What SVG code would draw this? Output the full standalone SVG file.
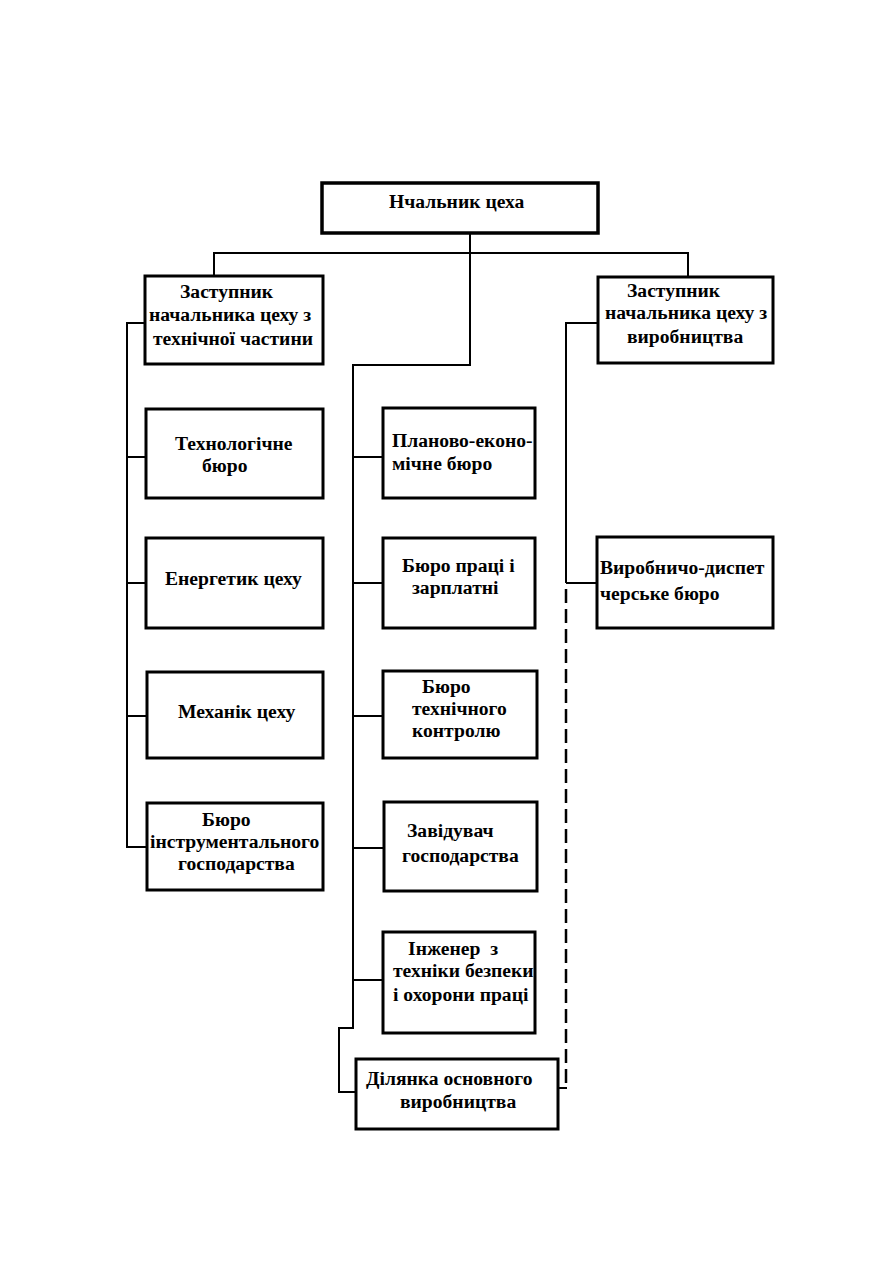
<svg xmlns="http://www.w3.org/2000/svg" width="893" height="1263" viewBox="0 0 893 1263">
<style>
.box{fill:#fff;stroke:#000;stroke-width:3}
.ln{fill:none;stroke:#000;stroke-width:2}
.dash{fill:none;stroke:#000;stroke-width:2.5;stroke-dasharray:14 6}
text{font-family:"Liberation Serif","Times New Roman",serif;font-weight:bold;font-size:19.6px;fill:#000}
</style>
<rect width="893" height="1263" fill="#fff"/>
<g id="connectors">
<path class="ln" d="M470 233V365H353V1028H339V1092H357"/>
<path class="ln" d="M214 277V253H688V277"/>
<path class="ln" d="M145 323H127V847H147M127 457H146M127 583H146M127 716H147"/>
<path class="ln" d="M353 457H383M353 583H383M353 716H383M353 848H384M353 980H383"/>
<path class="ln" d="M598 323H566V583M566 583H597"/>
<path class="dash" d="M566 589V1088"/>
<path class="ln" d="M567 1088H558"/>
</g>
<g id="n_head"><rect class="box" x="322" y="183" width="276" height="50" style="stroke-width:3.5"/><text x="389" y="208">Нчальник цеха</text></g>
<g id="n_dep_tech"><rect class="box" x="145" y="276" width="178" height="88"/><text x="180" y="298">Заступник</text><text x="149" y="321">начальника цеху з</text><text x="153" y="345">технічної частини</text></g>
<g id="n_dep_prod"><rect class="box" x="598" y="277" width="175" height="86"/><text x="627" y="297">Заступник</text><text x="605" y="319">начальника цеху з</text><text x="627" y="343">виробництва</text></g>
<g id="n_tech"><rect class="box" x="146" y="409" width="177" height="89"/><text x="175" y="450">Технологічне</text><text x="202" y="472">бюро</text></g>
<g id="n_energ"><rect class="box" x="146" y="538" width="177" height="90"/><text x="165" y="585">Енергетик цеху</text></g>
<g id="n_mech"><rect class="box" x="147" y="672" width="176" height="86"/><text x="178" y="718">Механік цеху</text></g>
<g id="n_instr"><rect class="box" x="147" y="803" width="176" height="87"/><text x="202" y="826">Бюро</text><text x="150" y="848">інструментального</text><text x="178" y="870">господарства</text></g>
<g id="n_plan"><rect class="box" x="383" y="408" width="152" height="90"/><text x="392" y="447">Планово-еконо-</text><text x="392" y="470">мічне бюро</text></g>
<g id="n_labor"><rect class="box" x="383" y="538" width="152" height="90"/><text x="402" y="572">Бюро праці і</text><text x="412" y="594">зарплатні</text></g>
<g id="n_btk"><rect class="box" x="383" y="671" width="154" height="87"/><text x="422" y="693">Бюро</text><text x="412" y="715">технічного</text><text x="412" y="737">контролю</text></g>
<g id="n_zav"><rect class="box" x="384" y="802" width="153" height="89"/><text x="407" y="837">Завідувач</text><text x="402" y="862">господарства</text></g>
<g id="n_eng"><rect class="box" x="383" y="932" width="152" height="101"/><text x="408" y="955" xml:space="preserve">Інженер  з</text><text x="393" y="977">техніки безпеки</text><text x="393" y="1001">і охорони праці</text></g>
<g id="n_main"><rect class="box" x="356" y="1059" width="202" height="70"/><text x="366" y="1085">Ділянка основного</text><text x="400" y="1108">виробництва</text></g>
<g id="n_disp"><rect class="box" x="597" y="537" width="176" height="91"/><text x="600" y="574">Виробничо-диспет</text><text x="600" y="600">черське бюро</text></g>
</svg>
